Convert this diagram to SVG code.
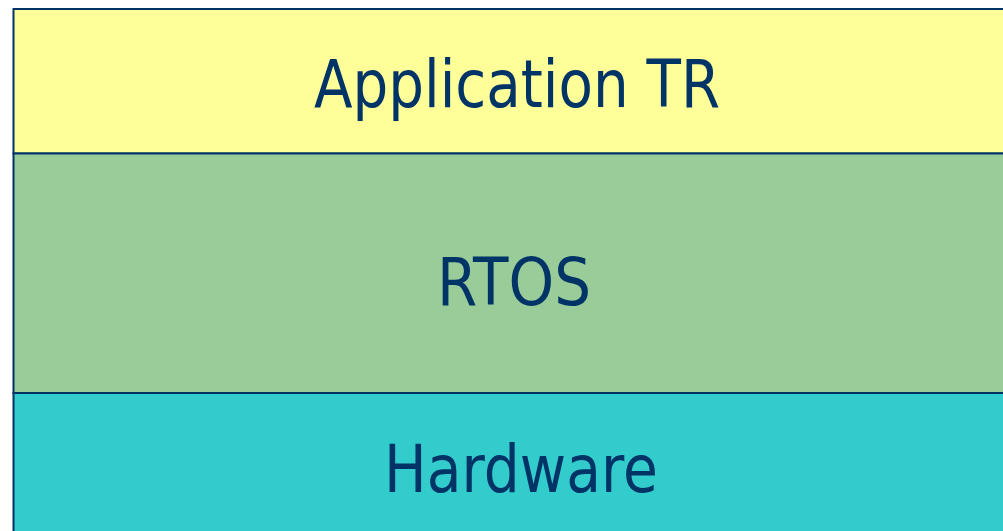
<svg xmlns="http://www.w3.org/2000/svg" width="1003" height="531" viewBox="0 0 1003 531">
  <style>
    .layer { stroke: #003366; stroke-width: 2; }
    .lbl { font-family: "DejaVu Sans", "Liberation Sans", sans-serif; font-size: 66px; fill: #003366; text-anchor: middle; }
  </style>
  <rect x="0" y="0" width="1003" height="531" fill="#ffffff"/>
  <g id="application">
    <rect class="layer" x="13.5" y="9" width="1010" height="144.5" fill="#FFFF99"/>
    <text class="lbl" x="517" y="107" textLength="406" lengthAdjust="spacingAndGlyphs">Application TR</text>
  </g>
  <g id="rtos">
    <rect class="layer" x="13.5" y="153.5" width="1010" height="239.5" fill="#99CC99"/>
    <text class="lbl" x="514" y="305" textLength="154" lengthAdjust="spacingAndGlyphs">RTOS</text>
  </g>
  <g id="hardware">
    <rect class="layer" x="13.5" y="393" width="1010" height="160" fill="#33CCCC"/>
    <text class="lbl" x="521" y="492" textLength="274" lengthAdjust="spacingAndGlyphs">Hardware</text>
  </g>
  <g id="connectors"></g>
</svg>
